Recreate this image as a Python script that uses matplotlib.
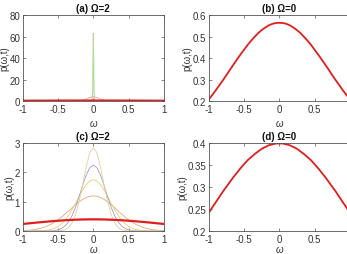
import numpy as np
import matplotlib
matplotlib.use("Agg")
import matplotlib.pyplot as plt

plt.rcParams['font.family'] = ['Liberation Sans', 'DejaVu Sans']
plt.rcParams['axes.unicode_minus'] = False

# omega grid (right half, step 0.05); curves are symmetric about 0
w_half = [0.0, 0.05, 0.1, 0.15, 0.2, 0.25, 0.3, 0.35, 0.4, 0.45, 0.5,
          0.55, 0.6, 0.65, 0.7, 0.75, 0.8, 0.85, 0.9, 0.95, 1.0]

# (b) Omega=0
p_b = [0.564, 0.563, 0.559, 0.552, 0.542, 0.530, 0.516, 0.499, 0.481, 0.461, 0.439,
       0.417, 0.394, 0.370, 0.346, 0.321, 0.297, 0.274, 0.251, 0.229, 0.208]
# (d) Omega=0, also the thick red curve of (a) and (c)
p_d = [0.399, 0.399, 0.397, 0.395, 0.391, 0.387, 0.381, 0.375, 0.368, 0.361, 0.352,
       0.343, 0.333, 0.323, 0.312, 0.301, 0.290, 0.278, 0.266, 0.254, 0.242]

# (c) thin curves
p_c1 = [1.200, 1.186, 1.147, 1.084, 1.001, 0.904, 0.798, 0.689, 0.581, 0.479, 0.386,
        0.304, 0.234, 0.177, 0.130, 0.094, 0.066, 0.045, 0.030, 0.020, 0.013]
p_c2 = [1.750, 1.708, 1.590, 1.410, 1.191, 0.959, 0.737, 0.539, 0.376, 0.250, 0.158,
        0.095, 0.055, 0.030, 0.016, 0.008, 0.004, 0.002, 0.001, 0.0, 0.0]
p_c3 = [2.250, 2.162, 1.918, 1.571, 1.189, 0.830, 0.536, 0.319, 0.175, 0.089, 0.042,
        0.018, 0.007, 0.003, 0.001, 0.0, 0.0, 0.0, 0.0, 0.0, 0.0]
p_c4 = [2.850, 2.674, 2.208, 1.605, 1.027, 0.579, 0.287, 0.125, 0.048, 0.016, 0.005,
        0.001, 0.0, 0.0, 0.0, 0.0, 0.0, 0.0, 0.0, 0.0, 0.0]

# (a) Omega=2: small hump and narrow spike
p_a1 = [4.0, 3.29, 1.83, 0.69, 0.18, 0.03, 0.0, 0.0, 0.0, 0.0, 0.0,
        0.0, 0.0, 0.0, 0.0, 0.0, 0.0, 0.0, 0.0, 0.0, 0.0]
w_spike = [-1.0, -0.03, -0.02, -0.01, -0.005, 0.0, 0.005, 0.01, 0.02, 0.03, 1.0]
p_spike = [0.0, 0.0, 0.02, 8.5, 38.0, 63.0, 38.0, 8.5, 0.02, 0.0, 0.0]

x_ticks = [-1, -0.5, 0, 0.5, 1]


def full(half):
    half = np.asarray(half, dtype=float)
    return np.concatenate([half[:0:-1], half])


w = np.concatenate([-np.asarray(w_half)[:0:-1], w_half])

RED = '#e01e1e'
TXT = '#333333'


def style(ax, title, ylim, yticks, show_last_x=True, xpad=3):
    ax.set_xlim(-1, 1)
    ax.set_ylim(*ylim)
    ax.set_xticks(x_ticks)
    labels = [f'{t:g}' for t in x_ticks]
    if not show_last_x:
        labels[-1] = ''  # falls outside the picture in the reference
    ax.set_xticklabels(labels)
    ax.set_yticks(yticks)
    ax.set_yticklabels([f'{t:g}' for t in yticks])
    ax.tick_params(direction='in', length=2.5, width=0.5, labelsize=7,
                   colors='#555555', labelcolor=TXT, top=True, right=True, pad=2)
    for s in ax.spines.values():
        s.set_color('#555555')
        s.set_linewidth(0.6)
    ax.set_title(title, fontsize=7, fontweight='bold', pad=3, color='#111111')
    ax.set_xlabel('ω', fontsize=7, style='italic', color=TXT, labelpad=xpad)
    ax.set_ylabel('p(ω,t)', fontsize=7, color=TXT, labelpad=0)


fig = plt.figure(figsize=(3.47, 2.55), dpi=100)
ax_a = fig.add_axes([0.066, 0.600, 0.406, 0.337])
ax_b = fig.add_axes([0.602, 0.600, 0.406, 0.337])
ax_c = fig.add_axes([0.066, 0.090, 0.406, 0.345])
ax_d = fig.add_axes([0.602, 0.090, 0.406, 0.345])

# (a)
ax_a.plot(w_spike, p_spike, color='#b4da98', lw=0.8)
ax_a.plot(w, full(p_a1), color='#f0a0a0', lw=0.6)
ax_a.plot(w, full(p_d), color=RED, lw=1.6)
style(ax_a, '(a) Ω=2', (0, 80), [0, 20, 40, 60, 80])

# (b)
ax_b.plot(w, full(p_b), color=RED, lw=1.3)
style(ax_b, '(b) Ω=0', (0.2, 0.6), [0.2, 0.3, 0.4, 0.5, 0.6], show_last_x=False)

# (c)
ax_c.plot(w, full(p_c1), color='#e5a878', lw=0.6)
ax_c.plot(w, full(p_c2), color='#f0cc6a', lw=0.6)
ax_c.plot(w, full(p_c3), color='#9c9ccf', lw=0.6)
ax_c.plot(w, full(p_c4), color='#e6cf98', lw=0.6)
ax_c.plot(w, full(p_d), color=RED, lw=1.6)
style(ax_c, '(c) Ω=2', (0, 3), [0, 1, 2, 3], xpad=0)

# (d)
ax_d.plot(w, full(p_d), color=RED, lw=1.3)
style(ax_d, '(d) Ω=0', (0.2, 0.4), [0.2, 0.25, 0.3, 0.35, 0.4],
      show_last_x=False, xpad=0)

fig.savefig('out.png', dpi=100)
